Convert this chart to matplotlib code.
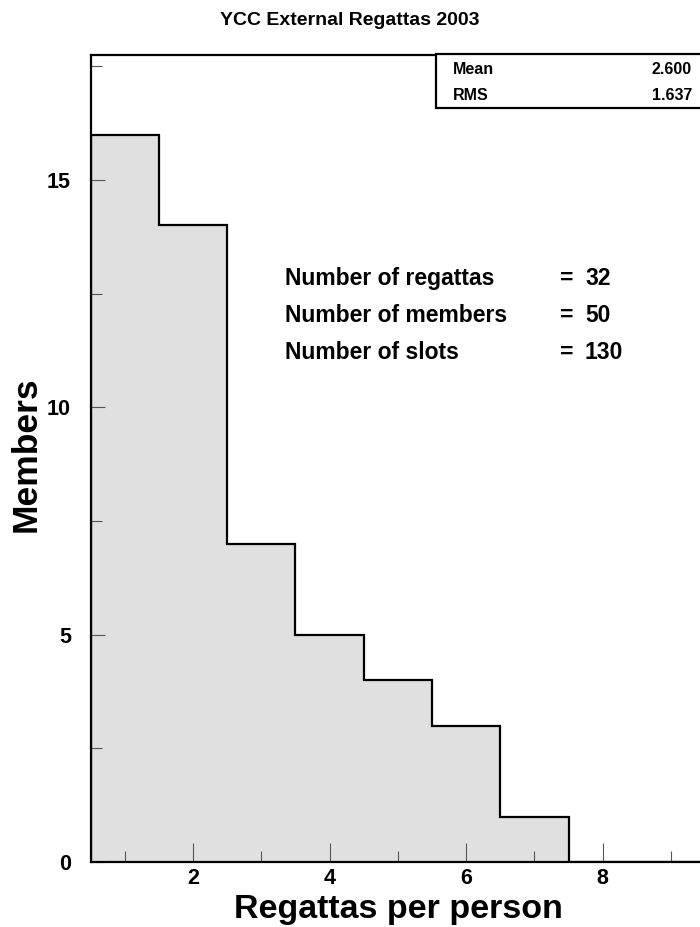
import matplotlib.pyplot as plt
from matplotlib.ticker import MultipleLocator

plt.rcParams['font.family'] = ['Liberation Sans', 'DejaVu Sans']
plt.rcParams['font.weight'] = 'bold'

# histogram data
bin_edges = [0.5, 1.5, 2.5, 3.5, 4.5, 5.5, 6.5, 7.5, 8.5, 9.5]
members = [16, 14, 7, 5, 4, 3, 1, 0, 0]

stat_names = ['Mean', 'RMS']
stat_values = ['2.600', '1.637']

info_labels = ['Number of regattas', 'Number of members', 'Number of slots']
info_values = ['32', '50', '130']

fig = plt.figure(figsize=(7, 9.27), dpi=100)
ax = fig.add_axes([0.1293, 0.0701, 0.878, 0.8706])

# filled histogram and outline
ax.stairs(members, bin_edges, fill=True, color='#e0e0e0', linewidth=0)
ax.stairs(members, bin_edges, baseline=0, color='black', linewidth=1.6)

ax.set_xlim(0.5, 9.5)
ax.set_ylim(0, 17.75)

ax.xaxis.set_major_locator(MultipleLocator(2))
ax.xaxis.set_minor_locator(MultipleLocator(1))
ax.yaxis.set_major_locator(MultipleLocator(5))
ax.yaxis.set_minor_locator(MultipleLocator(2.5))
ax.tick_params(which='both', direction='in', width=0.8, color='#555555', labelsize=15.5)
ax.tick_params(axis='x', which='major', length=14, pad=4)
ax.tick_params(axis='x', which='minor', length=8)
ax.tick_params(axis='y', which='major', length=10, pad=14)
ax.tick_params(axis='y', which='minor', length=8)
for lab in ax.get_xticklabels() + ax.get_yticklabels():
    lab.set_fontweight('bold')
for side in ax.spines.values():
    side.set_linewidth(1.6)

# axis titles placed in figure pixels
fig.text(398 / 700, (927 - 918) / 927, 'Regattas per person', ha='center', va='baseline',
         fontsize=24.5, fontweight='bold')
fig.text(26 / 700, (927 - 454) / 927, 'Members', ha='center', va='center', rotation=90,
         fontsize=25.5, fontweight='bold')
fig.text(0.5, 0.978, 'YCC External Regattas 2003', ha='center', va='center',
         fontsize=14, fontweight='bold')

# info text block
for i, (lab, val) in enumerate(zip(info_labels, info_values)):
    y = 0.7 - i * 0.04
    fig.text(285 / 700, y, lab, fontsize=16.5, fontweight='bold', va='center')
    fig.text(560 / 700, y, '=', fontsize=16.5, fontweight='bold', va='center')
    fig.text(585 / 700, y, val, fontsize=16.5, fontweight='bold', va='center')

# statistics box
box = plt.Rectangle((436 / 700, (927 - 108) / 927), 0.4, 54 / 927, transform=fig.transFigure,
                    facecolor='white', edgecolor='black', linewidth=1.6, zorder=5)
fig.add_artist(box)
for i, (name, val) in enumerate(zip(stat_names, stat_values)):
    y = (927 - 70 - i * 26) / 927
    fig.text(453 / 700, y, name, fontsize=11.5, fontweight='bold', va='center', zorder=6)
    fig.text(692 / 700, y, val, fontsize=11.5, fontweight='bold', va='center', ha='right', zorder=6)

fig.savefig('out.png', dpi=100)
